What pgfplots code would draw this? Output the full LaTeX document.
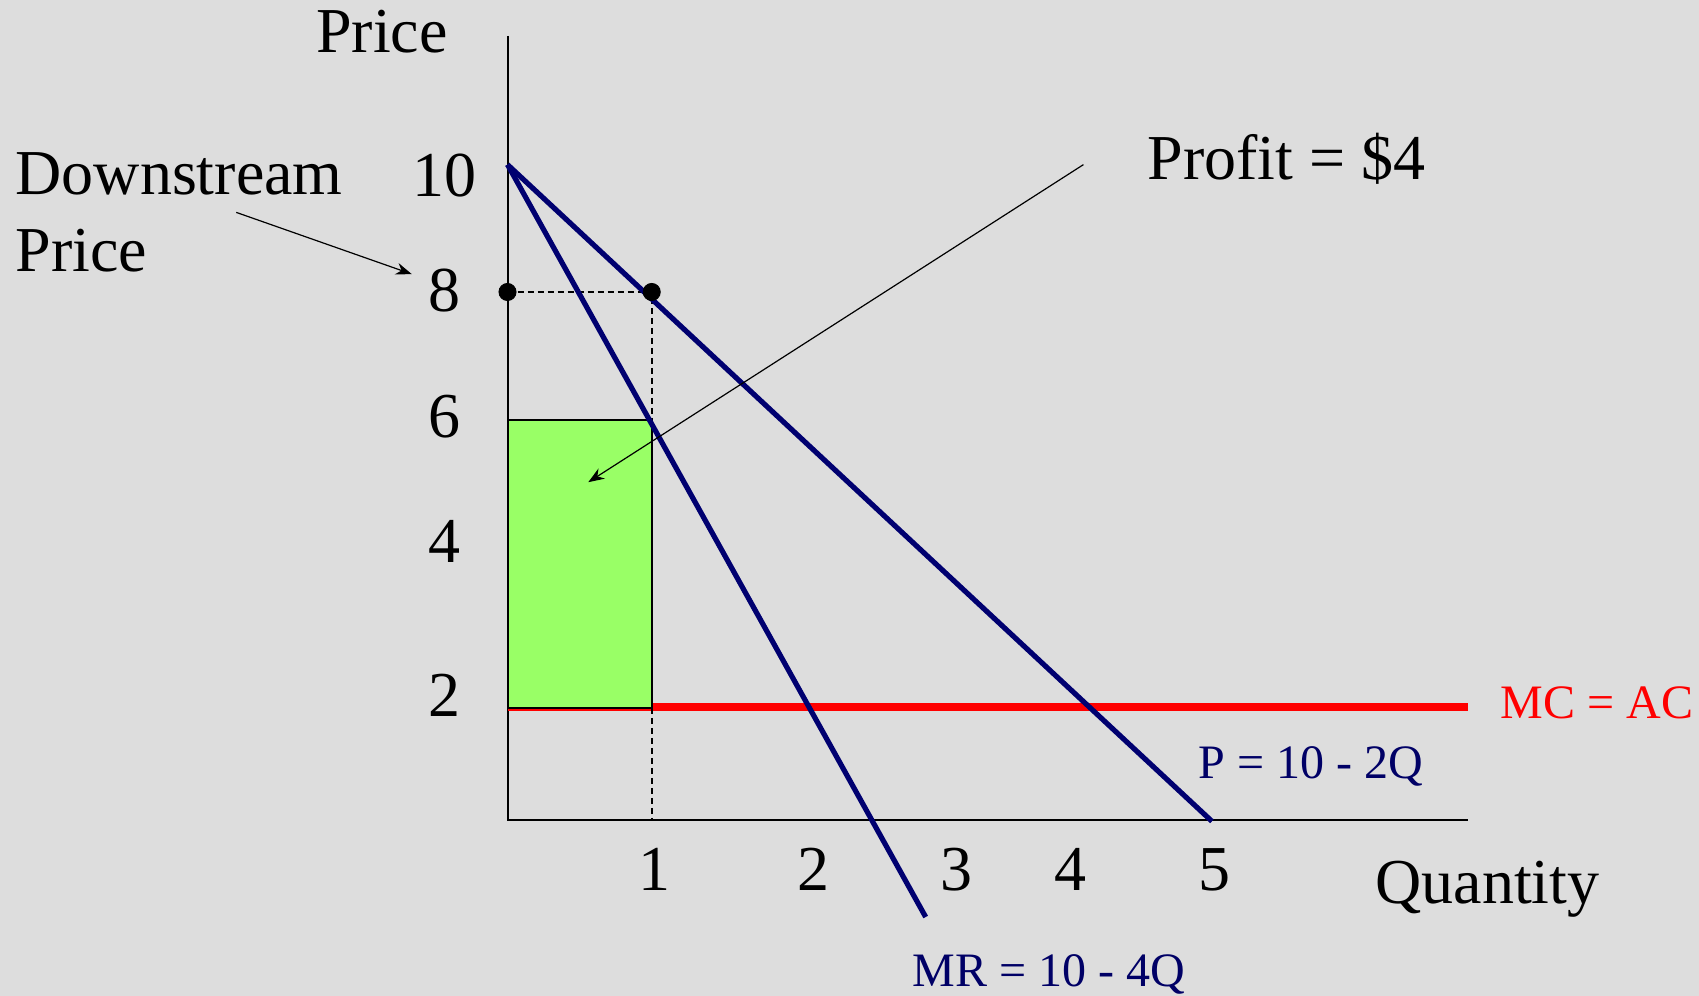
\documentclass[border=0pt]{standalone}
\usepackage{pgfplots}
\pgfplotsset{compat=1.18}
\usetikzlibrary{arrows.meta}
\usepackage{fontspec}
\setmainfont{Liberation Serif}
\definecolor{bgc}{HTML}{DDDDDD}
\definecolor{navy}{HTML}{000070}
\definecolor{navytxt}{HTML}{000066}
\definecolor{profitgreen}{HTML}{99FF66}
\newcommand{\bigtxt}{\fontsize{32}{38}\selectfont}
\newcommand{\smalltxt}{\fontsize{24}{29}\selectfont}
\begin{document}
\begin{tikzpicture}
\useasboundingbox (0,0) rectangle (849.5pt,498pt);
\fill[bgc] (0,0) rectangle (849.5pt,498pt);
\begin{axis}[
  at={(0,0)}, anchor=south west,
  scale only axis, width=849.5pt, height=498pt,
  xmin=-3.5194, xmax=8.2628, ymin=-2.6667, ymax=12.4242,
  hide axis, clip=false,
  every node/.style={inner sep=0pt, outer sep=0pt},
]
% axes
\addplot[black, line width=1pt] coordinates {(0,11.88) (0,0) (6.66,0)};
% MC = AC
\addplot[red, line width=4pt] coordinates {(0,1.71) (6.66,1.71)};
% profit rectangle
\addplot[fill=profitgreen, draw=black, line width=1pt] coordinates {(0,1.70) (1,1.70) (1,6.06) (0,6.06)} -- cycle;
% dashed guides
\addplot[black, line width=1pt, dash pattern=on 3pt off 2pt] coordinates {(0,8) (1,8) (1,0)};
% demand and MR
\addplot[navy, line width=2.6pt] coordinates {(0,9.93) (4.885,-0.02)};
\addplot[navy, line width=2.6pt] coordinates {(0,9.93) (2.90,-1.47)};
% dots
\addplot[black, only marks, mark=*, mark size=4.3pt] coordinates {(0,8) (1,8)};
% arrows
\addplot[black, line width=0.6pt, -{Stealth[length=8pt,width=6pt]}] coordinates {(3.994,9.93) (0.560,5.118)};
\addplot[black, line width=0.6pt, -{Stealth[length=8pt,width=6pt]}] coordinates {(-1.881,9.206) (-0.664,8.271)};
% texts
\node[anchor=base west] at (axis cs:-1.375,11.636) {\bigtxt Price};
\node[anchor=base west] at (axis cs:-3.46,9.470) {\bigtxt Downstream};
\node[anchor=base west] at (axis cs:-3.46,8.308) {\bigtxt Price};
\node[anchor=base west] at (axis cs:4.39,9.697) {\bigtxt Profit = \$4};
\node[anchor=base west, text=red] at (axis cs:6.838,1.541) {\smalltxt MC = AC};
\node[anchor=base west, text=navytxt] at (axis cs:4.745,0.632) {\smalltxt P = 10 - 2Q};
\node[anchor=base west] at (axis cs:5.97,-1.268) {\bigtxt Quantity};
\node[anchor=base west, text=navytxt] at (axis cs:2.76,-2.526) {\smalltxt MR = 10 - 4Q};
% x tick labels
\node[anchor=base] at (axis cs:1.02,-1.070) {\bigtxt 1};
\node[anchor=base] at (axis cs:2.123,-1.070) {\bigtxt 2};
\node[anchor=base] at (axis cs:3.115,-1.070) {\bigtxt 3};
\node[anchor=base] at (axis cs:3.904,-1.070) {\bigtxt 4};
\node[anchor=base] at (axis cs:4.905,-1.070) {\bigtxt 5};
% y tick labels
\node[anchor=center] at (axis cs:-0.440,9.765) {\bigtxt 10};
\node[anchor=center] at (axis cs:-0.440,8.024) {\bigtxt 8};
\node[anchor=center] at (axis cs:-0.440,6.105) {\bigtxt 6};
\node[anchor=center] at (axis cs:-0.440,4.215) {\bigtxt 4};
\node[anchor=center] at (axis cs:-0.440,1.885) {\bigtxt 2};
\end{axis}
\end{tikzpicture}
\end{document}
